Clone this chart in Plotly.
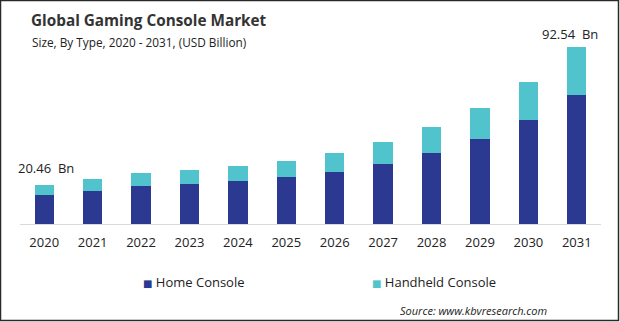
import plotly.graph_objects as go

years = ["2020", "2021", "2022", "2023", "2024", "2025", "2026", "2027", "2028", "2029", "2030", "2031"]
home_console = [15.1, 17.2, 19.8, 21.0, 22.4, 24.5, 27.1, 31.3, 37.1, 44.4, 54.4, 67.3]
handheld_console = [5.36, 6.3, 6.8, 7.2, 8.0, 8.4, 10.1, 11.5, 13.5, 16.1, 19.7, 25.24]
label_years = ["2020", "2031"]
label_texts = ["20.46  Bn", "92.54  Bn"]
series_names = ["Home Console", "Handheld Console"]
series_colors = ["#2b3990", "#50c3cd"]

W, H = 620, 322
L, R, T, B = 20, 19, 30, 98
PW, PH = W - L - R, H - T - B


def px_x(x):
    return (x - L) / PW


def px_y(y):
    return (H - B - y) / PH


FONT = "Open Sans"

fig = go.Figure()
for name, vals, col in zip(series_names, [home_console, handheld_console], series_colors):
    fig.add_trace(go.Bar(x=years, y=vals, name=name, marker=dict(color=col, line=dict(width=0))))

totals = {y: h + d for y, h, d in zip(years, home_console, handheld_console)}
annotations = []
for yr, txt in zip(label_years, label_texts):
    annotations.append(dict(x=years.index(yr), y=totals[yr], xref="x", yref="y", text=txt,
                            showarrow=False, yanchor="bottom",
                            yshift=6 if yr == "2020" else 2,
                            xshift=2 if yr == "2020" else -7,
                            font=dict(family=FONT, size=13, color="#222")))

annotations += [
    dict(x=px_x(29), y=px_y(20), xref="paper", yref="paper", xanchor="left", yanchor="middle",
         text="<b>Global Gaming Console Market</b>", showarrow=False,
         font=dict(family=FONT, size=15.3, color="#333")),
    dict(x=px_x(29.5), y=px_y(42), xref="paper", yref="paper", xanchor="left", yanchor="middle",
         text="Size, By Type, 2020 - 2031, (USD Billion)", showarrow=False,
         font=dict(family=FONT, size=11.8, color="#222")),
    dict(x=px_x(549), y=px_y(310), xref="paper", yref="paper", xanchor="right", yanchor="middle",
         text="<i>Source: www.kbvresearch.com</i>", showarrow=False,
         font=dict(family=FONT, size=11, color="#222")),
]

# legend entries
legend_x = [141, 370]
for lx, name, col in zip(legend_x, series_names, series_colors):
    annotations.append(dict(x=px_x(lx), y=px_y(282), xref="paper", yref="paper",
                            xanchor="left", yanchor="middle", showarrow=False,
                            text=f"<span style='color:{col};font-family:DejaVu Sans;font-size:10px'>■</span> {name}",
                            font=dict(family=FONT, size=13, color="#222")))

shapes = [
    dict(type="rect", xref="paper", yref="paper",
         x0=px_x(0.5), x1=px_x(618.5), y0=px_y(320.5), y1=px_y(0.5),
         line=dict(color="#2a2a2a", width=1.5)),
]

fig.update_layout(
    width=W, height=H,
    margin=dict(l=L, r=R, t=T, b=B),
    barmode="stack",
    bargap=0.6,
    plot_bgcolor="white",
    paper_bgcolor="white",
    font=dict(family=FONT, size=13, color="#222"),
    showlegend=False,
    xaxis=dict(type="category", range=[-0.5, 11.5], autorange=False, showgrid=False,
               showline=True, linecolor="#d9d9d9", linewidth=1,
               ticks="", ticklabelstandoff=6,
               tickfont=dict(family=FONT, size=13, color="#222"), fixedrange=True),
    yaxis=dict(visible=False, range=[0, PH / 1.916], autorange=False, fixedrange=True),
    annotations=annotations,
    shapes=shapes,
)

fig.write_html("out.html", config={"displayModeBar": False})
